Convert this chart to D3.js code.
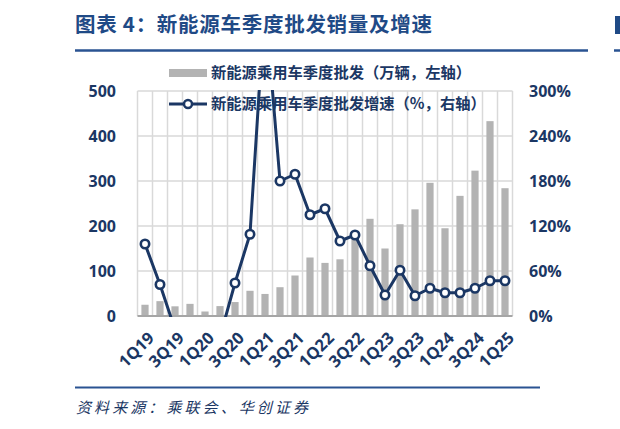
<!DOCTYPE html>
<html><head><meta charset="utf-8">
<script src="https://cdn.jsdelivr.net/npm/d3@7"></script>
<style>
html,body{margin:0;padding:0;background:#fff;}
svg{display:block;}
text{font-family:"Open Sans","Noto Sans CJK SC",sans-serif;}
.cjk{font-family:"Noto Sans CJK SC","Noto Sans",sans-serif;}
</style></head>
<body>
<svg id="c" width="620" height="429"></svg>
<script>
const categories = ["1Q19","2Q19","3Q19","4Q19","1Q20","2Q20","3Q20","4Q20","1Q21","2Q21","3Q21","4Q21","1Q22","2Q22","3Q22","4Q22","1Q23","2Q23","3Q23","4Q23","1Q24","2Q24","3Q24","4Q24","1Q25"];
const wholesale = [25,33,21.5,27,10,22,31,56,49,64,90,130,118,126,187,216,150,204,237,296,195,267,323,433,284];
const growth = [96,42,-18,-35,-60,-28,44,109,420,180,189,135,143,100,108,67,28,61,27,37,31,31,37,47,47];
const leftTicks = [0,100,200,300,400,500];
const rightTicks = [0,60,120,180,240,300];
const xTickLabels = ["1Q19","3Q19","1Q20","3Q20","1Q21","3Q21","1Q22","3Q22","1Q23","3Q23","1Q24","3Q24","1Q25"];
const seriesNames = ["新能源乘用车季度批发（万辆，左轴）","新能源乘用车季度批发增速（%，右轴）"];
const titleText = "图表 4：新能源车季度批发销量及增速";
const sourceText = "资料来源：乘联会、华创证券";

const navy = "#1b3764";
const titleBlue = "#1f4a86";
const svg = d3.select("#c");
const L = 137.5, R = 512.5, T = 91, B = 316;

const x = d3.scaleBand().domain(categories).range([L, R]).paddingInner(0.52).paddingOuter(0.26);
const step = (R - L) / categories.length;
const yL = d3.scaleLinear().domain([0, 500]).range([B, T]);
const yR = d3.scaleLinear().domain([0, 300]).range([B, T]);

// title
svg.append("text").attr("class","cjk").attr("x",75).attr("y",32)
  .attr("font-size",20.5).attr("font-weight",700).attr("fill",titleBlue)
  .attr("textLength",357).attr("lengthAdjust","spacing").text(titleText);
svg.append("line").attr("x1",75).attr("x2",588).attr("y1",50.5).attr("y2",50.5)
  .attr("stroke","#2a5392").attr("stroke-width",2.5);
// fragment of neighbouring chart at right edge
svg.append("rect").attr("x",615).attr("y",16).attr("width",5).attr("height",18).attr("fill",titleBlue);
svg.append("line").attr("x1",614).attr("x2",620).attr("y1",50.5).attr("y2",50.5)
  .attr("stroke","#2a5392").attr("stroke-width",2.5);

// gridlines
const g = svg.append("g");
g.selectAll("line.h").data(leftTicks.slice(1)).join("line")
  .attr("x1",L).attr("x2",R).attr("y1",d=>yL(d)).attr("y2",d=>yL(d))
  .attr("stroke","#d9d9d9").attr("stroke-width",1.5);
const bounds = d3.range(categories.length + 1);
g.selectAll("line.v").data(bounds).join("line")
  .attr("x1",i=>L + i*step).attr("x2",i=>L + i*step).attr("y1",T).attr("y2",B)
  .attr("stroke","#d9d9d9").attr("stroke-width",1.5);

// bars
svg.append("g").selectAll("rect").data(wholesale).join("rect")
  .attr("x",(d,i)=>x(categories[i])).attr("width",x.bandwidth())
  .attr("y",d=>yL(d)).attr("height",d=>B - yL(d)).attr("fill","#b3b3b3");

// baseline
svg.append("line").attr("x1",L).attr("x2",R).attr("y1",B).attr("y2",B)
  .attr("stroke","#a6a6a6").attr("stroke-width",2);

// legend
svg.append("rect").attr("x",169).attr("y",69).attr("width",38).attr("height",8).attr("fill","#b3b3b3");
svg.append("text").attr("class","cjk").attr("x",211).attr("y",73).attr("dy","0.35em")
  .attr("font-size",15.3).attr("font-weight",700).attr("fill",navy).text(seriesNames[0]);
svg.append("line").attr("x1",169).attr("x2",207).attr("y1",104).attr("y2",104)
  .attr("stroke",navy).attr("stroke-width",3);
svg.append("circle").attr("cx",188).attr("cy",104).attr("r",4).attr("fill","#fff")
  .attr("stroke",navy).attr("stroke-width",2.5);
svg.append("text").attr("class","cjk").attr("x",211).attr("y",104).attr("dy","0.35em")
  .attr("font-size",15.3).attr("font-weight",700).attr("fill",navy).text(seriesNames[1]);

// line (clipped to plot area)
svg.append("clipPath").attr("id","clip").append("rect")
  .attr("x",L-10).attr("y",T-1).attr("width",R-L+20).attr("height",B-T+2);
const cx = i => x(categories[i]) + x.bandwidth()/2;
const lg = svg.append("g").attr("clip-path","url(#clip)");
lg.append("path").datum(growth)
  .attr("d", d3.line().x((d,i)=>cx(i)).y(d=>yR(d)))
  .attr("fill","none").attr("stroke",navy).attr("stroke-width",3).attr("stroke-linejoin","round");
lg.selectAll("circle").data(growth).join("circle")
  .attr("cx",(d,i)=>cx(i)).attr("cy",d=>yR(d)).attr("r",4.2)
  .attr("fill","#fff").attr("stroke",navy).attr("stroke-width",2.6);

// left axis labels
svg.append("g").selectAll("text").data(leftTicks).join("text")
  .attr("x",116).attr("y",d=>yL(d)).attr("dy","0.35em").attr("text-anchor","end")
  .attr("font-size",16).attr("font-weight",700).attr("fill",navy).text(d=>d);
// right axis labels
svg.append("g").selectAll("text").data(rightTicks).join("text")
  .attr("x",529).attr("y",d=>yR(d)).attr("dy","0.35em").attr("text-anchor","start")
  .attr("font-size",16).attr("font-weight",700).attr("fill",navy).text(d=>d+"%");

// x labels
svg.append("g").selectAll("text").data(xTickLabels).join("text")
  .attr("transform",d=>`translate(${x(d)+x.bandwidth()/2+6},${B+19}) rotate(-45)`)
  .attr("text-anchor","end").attr("dy","0.35em")
  .attr("font-size",16.5).attr("font-weight",700).attr("fill",navy).text(d=>d);

// footer
svg.append("line").attr("x1",75).attr("x2",540).attr("y1",387.5).attr("y2",387.5)
  .attr("stroke","#2a5392").attr("stroke-width",2);
svg.append("text").attr("class","cjk").attr("x",76).attr("y",408).attr("dy","0.35em")
  .attr("font-size",15).attr("font-style","italic").attr("fill",navy)
  .attr("textLength",232).text(sourceText);
</script>
</body></html>
